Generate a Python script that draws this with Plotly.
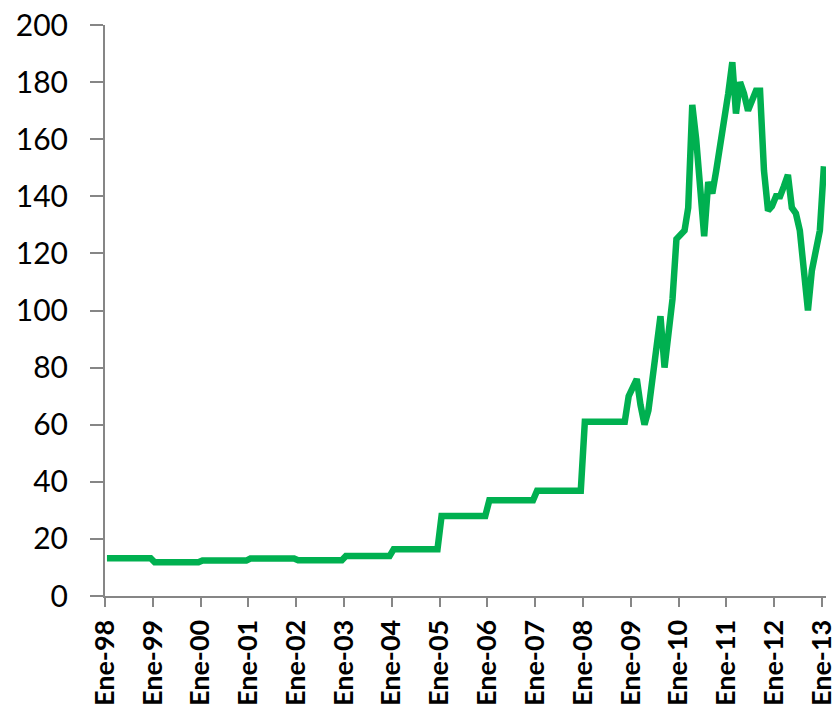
import pandas as pd
import plotly.graph_objects as go

# Monthly values, Jan-1998 .. Jan-2013 (points drawn mid-month, Excel "between tick marks")
values_1998_2004 = [
    13.2, 13.2, 13.2, 13.2, 13.2, 13.2, 13.2, 13.2, 13.2, 13.2, 13.2, 13.2,
    11.8, 11.8, 11.8, 11.8, 11.8, 11.8, 11.8, 11.8, 11.8, 11.8, 11.8, 11.8,
    12.4, 12.4, 12.4, 12.4, 12.4, 12.4, 12.4, 12.4, 12.4, 12.4, 12.4, 12.4,
    13.1, 13.1, 13.1, 13.1, 13.1, 13.1, 13.1, 13.1, 13.1, 13.1, 13.1, 13.1,
    12.5, 12.5, 12.5, 12.5, 12.5, 12.5, 12.5, 12.5, 12.5, 12.5, 12.5, 12.5,
    14.0, 14.0, 14.0, 14.0, 14.0, 14.0, 14.0, 14.0, 14.0, 14.0, 14.0, 14.0,
    16.4, 16.4, 16.4, 16.4, 16.4, 16.4, 16.4, 16.4, 16.4, 16.4, 16.4, 16.4,
]
values_2005_2008 = [
    28.0, 28.0, 28.0, 28.0, 28.0, 28.0, 28.0, 28.0, 28.0, 28.0, 28.0, 28.0,
    33.5, 33.5, 33.5, 33.5, 33.5, 33.5, 33.5, 33.5, 33.5, 33.5, 33.5, 33.5,
    36.9, 36.9, 36.9, 36.9, 36.9, 36.9, 36.9, 36.9, 36.9, 36.9, 36.9, 36.9,
    61.0, 61.0, 61.0, 61.0, 61.0, 61.0, 61.0, 61.0, 61.0, 61.0, 61.0, 70.0,
]
values_2009_2013 = [
    73.0, 76.0, 67.0, 60.0, 65.0, 76.0, 87.0, 98.0, 80.0, 92.0, 104.0, 125.0,
    126.5, 128.0, 136.0, 172.0, 160.0, 143.0, 126.0, 145.0, 141.0, 149.0, 158.0, 165.0,
    176.0, 187.0, 169.0, 180.0, 176.0, 170.0, 173.5, 177.0, 177.0, 149.0, 135.0, 136.5,
    140.0, 140.0, 143.5, 147.5, 136.0, 134.0, 128.0, 114.0, 100.0, 114.0, 121.0, 128.0,
    150.5,
]
values = values_1998_2004 + values_2005_2008 + values_2009_2013

months = pd.date_range("1998-01-01", periods=len(values), freq="MS") + pd.Timedelta(days=15)

tick_years = list(range(1998, 2014))
tick_vals = [f"{y}-01-01" for y in tick_years]
tick_text = [f"Ene-{y % 100:02d}" for y in tick_years]

y_ticks = [0, 20, 40, 60, 80, 100, 120, 140, 160, 180, 200]

fig = go.Figure()
fig.add_trace(go.Scatter(
    x=months, y=values, mode="lines",
    line=dict(color="#00B050", width=6.5),
    showlegend=False, hoverinfo="skip",
))

axis_gray = "#868686"
fig.update_layout(
    width=838, height=706,
    margin=dict(l=105, r=12, t=25, b=110),
    paper_bgcolor="white", plot_bgcolor="white",
    font=dict(family="Lato", color="black"),
    xaxis=dict(
        type="date",
        range=["1998-01-01", "2013-02-01"],
        tickmode="array", tickvals=tick_vals, ticktext=tick_text,
        tickangle=-90,
        tickfont=dict(family="Lato", size=27, color="black", weight="bold"),
        showgrid=False, zeroline=False, automargin=False,
        showline=True, linecolor=axis_gray, linewidth=2,
        ticks="outside", ticklen=9, tickwidth=2, tickcolor=axis_gray,
        ticklabelstandoff=2, ticklabeloverflow="allow",
    ),
    yaxis=dict(
        range=[0, 200],
        tickmode="array", tickvals=y_ticks,
        tickfont=dict(family="Lato", size=30, color="black"),
        showgrid=False, zeroline=False, automargin=False,
        showline=True, linecolor=axis_gray, linewidth=2,
        ticks="outside", ticklen=13, tickwidth=2, tickcolor=axis_gray,
        ticklabelstandoff=16, ticklabeloverflow="allow",
    ),
)

fig.write_html(
    "out.html",
    config={"displayModeBar": False, "staticPlot": True},
    post_script="document.body.style.margin='0px';",
)
